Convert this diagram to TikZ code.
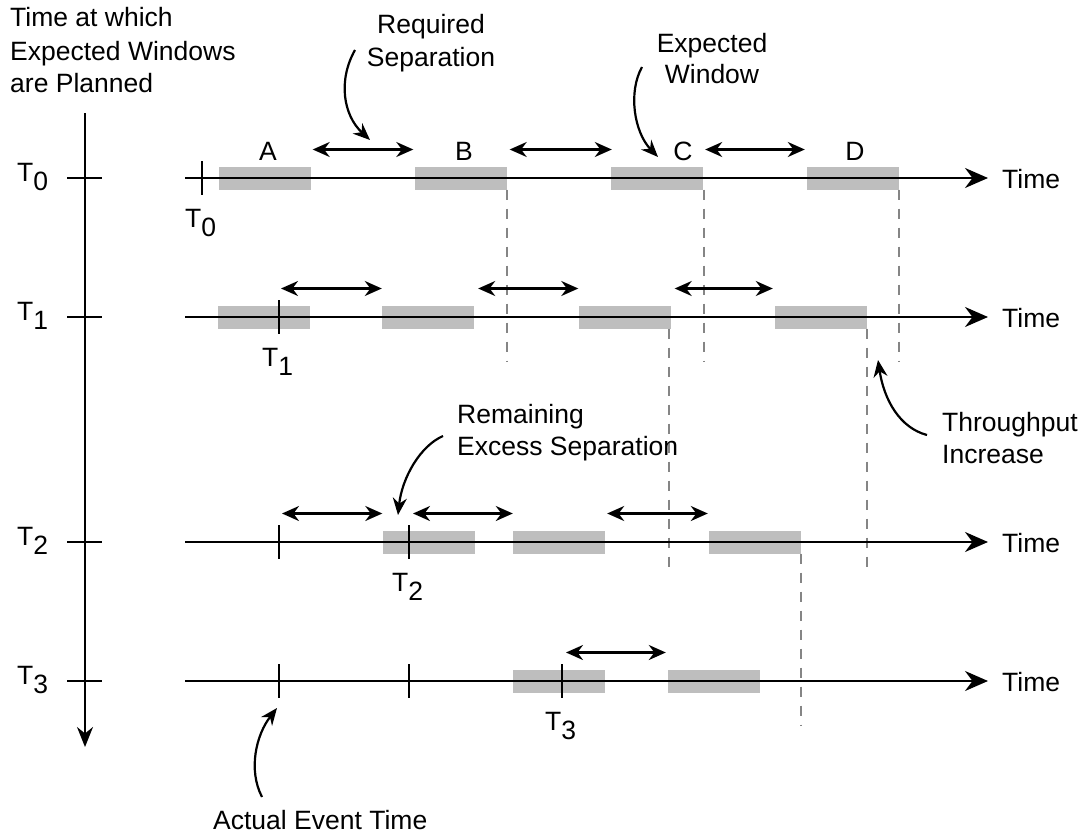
\documentclass[tikz,border=0pt]{standalone}
\usepackage{fontspec}
\setmainfont{Liberation Sans}
\usetikzlibrary{arrows.meta}
\definecolor{winfill}{HTML}{BEBEBE}
\definecolor{guide}{HTML}{858585}
% T with a lowered full-size index, as in T0, T1, ...
\newcommand\Tlab[1]{T\raisebox{-9.5pt}{#1}}

\begin{document}
\begin{tikzpicture}[x=1pt,y=-1pt,
  every node/.style={font=\fontsize{26.5}{32}\selectfont, inner sep=0pt},
  win/.style={fill=winfill, minimum width=92pt, minimum height=23pt, inner sep=0pt},
  axisline/.style={line width=2.2pt, -{Stealth[length=23pt,width=20pt]}},
  vaxis/.style={line width=2.2pt, -{Stealth[length=20pt,width=16pt]}},
  sepline/.style={line width=2.2pt, {Stealth[length=17pt,width=15pt]}-{Stealth[length=17pt,width=15pt]}},
  pointer/.style={line width=2.2pt, -{Stealth[length=17pt,width=14pt]}},
  tickmark/.style={line width=2.2pt},
  guideline/.style={guide, line width=2pt, dash pattern=on 10pt off 9pt},
  sepup/.style={yshift=28.5pt},
]
\useasboundingbox (0,0) rectangle (1087,835);

% ---- planning-time axis ----
\node[anchor=base west] (tl1) at (10,27) {Time at which};
\node[anchor=base west] (tl2) at (10,60) {Expected Windows};
\node[anchor=base west] (tl3) at (10,92) {are Planned};
\coordinate (vtop) at (85,113);
\coordinate (vbot) at (85,747);
\draw[vaxis] (vtop) -- (vbot);
\foreach \r/\y in {0/178,1/317,2/542,3/681}{
  \draw[tickmark] (67,\y) -- (102,\y);
  \node[anchor=base west] (lt\r) at (17,\y+3) {\Tlab{\r}};
}

% ---- expected windows ----
\node[win] (A0) at (264.5,178) {};
\node[win] (B0) at (460.5,178) {};
\node[win] (C0) at (657,178) {};
\node[win] (D0) at (853,178) {};
\node[win] (A1) at (264,317) {};
\node[win] (B1) at (428,317) {};
\node[win] (C1) at (624.5,317) {};
\node[win] (D1) at (821,317) {};
\node[win] (B2) at (428.5,542) {};
\node[win] (C2) at (559,542) {};
\node[win] (D2) at (755,542) {};
\node[win] (C3) at (559,681) {};
\node[win] (D3) at (714,681) {};

% ---- guide lines (window ends carried down) ----
\draw[guideline] (B0.south east) -- ++(0,172.5);
\draw[guideline] ([xshift=1pt]C0.south east) -- ++(0,172.5);
\draw[guideline] (D0.south east) -- ++(0,172.5);
\draw[guideline] ([xshift=-1.5pt]C1.south east) -- ++(0,246.5);
\draw[guideline] (D1.south east) -- ++(0,246.5);
\draw[guideline] (D2.south east) -- ++(0,171.5);

% ---- time lines ----
\foreach \r/\y in {0/178,1/317,2/542,3/681}{
  \coordinate (s\r) at (185,\y);
  \coordinate (e\r) at (988,\y);
  \draw[axisline] (s\r) -- (e\r);
  \node[anchor=base west] (time\r) at (1002,\y+10) {Time};
}

% ---- actual event times ----
\coordinate (t0) at (202,178);
\coordinate (t1) at (279,317);
\coordinate (u2) at (279,542);
\coordinate (t2) at (409,542);
\coordinate (u3) at (279,681);
\coordinate (v3) at (409,681);
\coordinate (t3) at (562,681);
\foreach \p in {t0,t1,u2,t2,u3,v3,t3}{
  \draw[tickmark] ([yshift=17pt]\p) -- ([yshift=-17pt]\p);
}
\node[anchor=base west] (lb0) at (185,227) {\Tlab{0}};
\node[anchor=base west] (lb1) at (262,366) {\Tlab{1}};
\node[anchor=base west] (lb2) at (392,591) {\Tlab{2}};
\node[anchor=base west] (lb3) at (545,730) {\Tlab{3}};

% ---- window names ----
\node[anchor=base] (nA) at (268,160) {A};
\node[anchor=base] (nB) at (464,160) {B};
\node[anchor=base] (nC) at (683,160) {C};
\node[anchor=base] (nD) at (855,160) {D};

% ---- required separations ----
\draw[sepline] ([sepup,xshift=2pt]A0.east) -- ([sepup,xshift=-1pt]B0.west);
\draw[sepline] ([sepup,xshift=3pt]B0.east) -- ([sepup,xshift=1pt]C0.west);
\draw[sepline] ([sepup,xshift=2pt]C0.east) -- ([sepup,xshift=-2pt]D0.west);
\draw[sepline] ([sepup,xshift=2pt]t1) -- ([sepup]B1.west);
\draw[sepline] ([sepup,xshift=4pt]B1.east) -- ([sepup]C1.west);
\draw[sepline] ([sepup,xshift=4pt]C1.east) -- ([sepup,xshift=-2pt]D1.west);
\draw[sepline] ([sepup,xshift=3pt]u2) -- ([sepup]B2.west);
\draw[sepline] ([sepup,xshift=4pt]t2) -- ([sepup]C2.west);
\draw[sepline] ([sepup,xshift=2pt]C2.east) -- ([sepup,xshift=-1pt]D2.west);
\draw[sepline] ([sepup,xshift=4pt]t3) -- ([sepup,xshift=-2pt]D3.west);

% ---- callouts ----
\node[anchor=base] (rq1) at (431,33) {Required};
\node[anchor=base] (rq2) at (431,66) {Separation};
\coordinate (rqa) at (355,50);
\coordinate (rqb) at (370,140);
\draw[pointer] (rqa) .. controls (338,80) and (343,115) .. (rqb);

\node[anchor=base] (ew1) at (712,52) {Expected};
\node[anchor=base] (ew2) at (712,83) {Window};
\coordinate (ewa) at (642,67);
\coordinate (ewb) at (658,157);
\draw[pointer] (ewa) .. controls (628,92) and (634,132) .. (ewb);

\node[anchor=base west] (tp1) at (942,431) {Throughput};
\node[anchor=base west] (tp2) at (942,463) {Increase};
\coordinate (tpa) at (927,435);
\coordinate (tpb) at (878,360);
\draw[pointer] (tpa) .. controls (900,428) and (884,400) .. (tpb);

\node[anchor=base west] (rx1) at (457,423) {Remaining};
\node[anchor=base west] (rx2) at (457,455) {Excess Separation};
\coordinate (rxa) at (443,436);
\coordinate (rxb) at (398,515);
\draw[pointer] (rxa) .. controls (420,446) and (402,478) .. (rxb);

\node[anchor=base west] (ae) at (213,829) {Actual Event Time};
\coordinate (aea) at (262,797);
\coordinate (aeb) at (277,708);
\draw[pointer] (aea) .. controls (248,770) and (256,735) .. (aeb);
\end{tikzpicture}
\end{document}
